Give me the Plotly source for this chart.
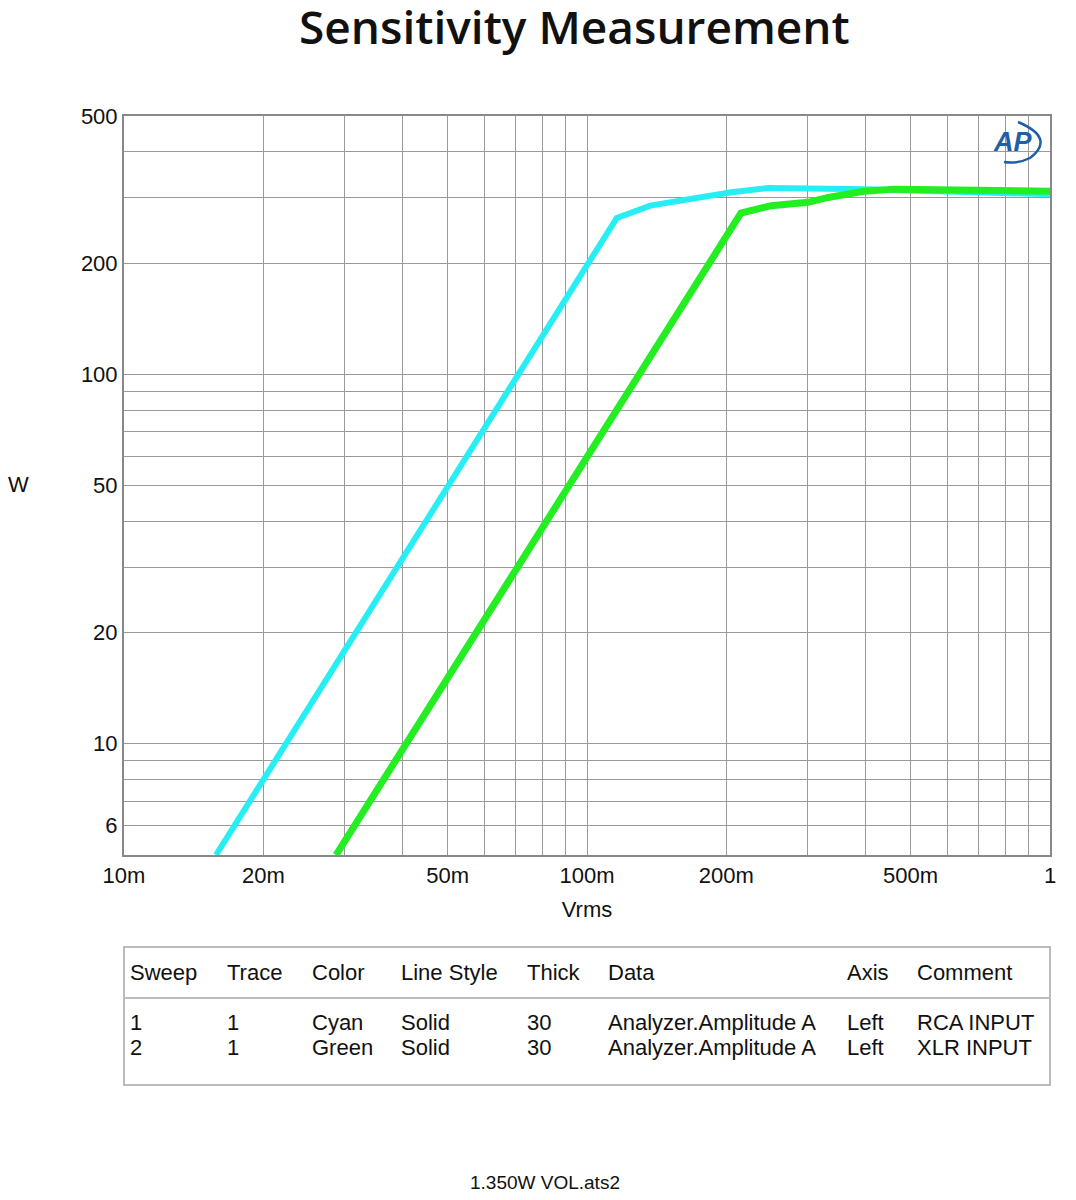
import plotly.graph_objects as go

rca_vrms = [0.0158, 0.116, 0.137, 0.160, 0.205, 0.246, 0.398, 1.0]
rca_watts = [5.0, 265, 286, 295, 311, 319, 317, 307]

xlr_vrms = [0.0287, 0.215, 0.250, 0.300, 0.332, 0.398, 0.462, 1.0]
xlr_watts = [5.0, 273, 286, 292, 301, 313, 317, 313]

# axis ticks / grid
x_grid = [0.01, 0.02, 0.03, 0.04, 0.05, 0.06, 0.07, 0.08, 0.09,
          0.1, 0.2, 0.3, 0.4, 0.5, 0.6, 0.7, 0.8, 0.9, 1.0]
x_labels = {0.01: "10m", 0.02: "20m", 0.05: "50m", 0.1: "100m",
            0.2: "200m", 0.5: "500m", 1.0: "1"}
y_grid = [6, 7, 8, 9, 10, 20, 30, 40, 50, 60, 70, 80, 90, 100,
          200, 300, 400, 500]
y_labels = {6: "6", 10: "10", 20: "20", 50: "50", 100: "100",
            200: "200", 500: "500"}

# legend table under the graph
table_header = ["Sweep", "Trace", "Color", "Line Style", "Thick", "Data", "Axis", "Comment"]
table_rows = [
    ["1", "1", "Cyan", "Solid", "30", "Analyzer.Amplitude A", "Left", "RCA INPUT"],
    ["2", "1", "Green", "Solid", "30", "Analyzer.Amplitude A", "Left", "XLR INPUT"],
]
col_x = [128, 225, 310, 399, 525, 606, 845, 915]  # pixel positions of columns

# page has an 8px body margin, so the figure is drawn a bit smaller
OFF = 8
W, H = 1076 - 2 * OFF, 1200 - 2 * OFF
L, R, T, B = 124, 1050, 116, 855  # plot box in page pixels

fig = go.Figure()
fig.add_trace(go.Scatter(x=rca_vrms, y=rca_watts, mode="lines",
                         line=dict(color="#27EEF5", width=6), name="RCA INPUT"))
fig.add_trace(go.Scatter(x=xlr_vrms, y=xlr_watts, mode="lines",
                         line=dict(color="#22EE22", width=7), name="XLR INPUT"))

axis_font = dict(family="Liberation Sans, Arial, sans-serif", size=22, color="#111")
fig.update_xaxes(type="log", range=[-2, 0], tickvals=x_grid,
                 ticktext=[x_labels.get(v, "") for v in x_grid],
                 showgrid=True, gridcolor="#9a9a9a", gridwidth=1,
                 showline=True, linecolor="#888", linewidth=2, mirror=True,
                 ticks="", tickfont=axis_font, zeroline=False,
                 title=dict(text="Vrms", font=axis_font, standoff=14))
fig.update_yaxes(type="log", range=[0.69897, 2.69897], tickvals=y_grid,
                 ticktext=[y_labels.get(v, "") for v in y_grid],
                 showgrid=True, gridcolor="#9a9a9a", gridwidth=1,
                 showline=True, linecolor="#888", linewidth=2, mirror=True,
                 ticks="", tickfont=axis_font, zeroline=False)


def px_x(p):
    return (p - L) / (R - L)


def px_y(p):
    return (B - p) / (B - T)


blue = "#1f5fa8"
annotations = [
    dict(text="W", x=px_x(18), y=px_y(485), font=axis_font),
    dict(text="1.350W VOL.ats2", x=px_x(545), y=px_y(1182),
         font=dict(family="Liberation Sans, Arial, sans-serif", size=19, color="#111")),
    dict(text="<i><b>AP</b></i>", x=px_x(1012), y=px_y(142),
         font=dict(family="Liberation Sans, Arial, sans-serif", size=27, color=blue)),
    dict(text="Sensitivity Measurement", x=px_x(574), y=px_y(26),
         font=dict(family="Open Sans, sans-serif", size=46, color="#111", weight=600)),
]
for name, cx in zip(table_header, col_x):
    annotations.append(dict(text=name, x=px_x(cx), y=px_y(972), xanchor="left",
                            font=axis_font))
for row, py in zip(table_rows, [1022, 1047]):
    for cell, cx in zip(row, col_x):
        annotations.append(dict(text=cell, x=px_x(cx), y=px_y(py), xanchor="left",
                                font=axis_font))
for a in annotations:
    a.setdefault("xref", "paper")
    a.setdefault("yref", "paper")
    a.setdefault("xanchor", "center")
    a.setdefault("yanchor", "middle")
    a.setdefault("showarrow", False)

shapes = [
    dict(type="rect", xref="paper", yref="paper", x0=px_x(124), x1=px_x(1050),
         y0=px_y(947), y1=px_y(1085), line=dict(color="#bbb", width=2)),
    dict(type="line", xref="paper", yref="paper", x0=px_x(124), x1=px_x(1050),
         y0=px_y(998), y1=px_y(998), line=dict(color="#bbb", width=2)),
    # swoosh of the AP logo
    dict(type="path", xref="paper", yref="paper",
         path=(f"M {px_x(1018)},{px_y(122)} "
               f"Q {px_x(1056)},{px_y(138)} {px_x(1030)},{px_y(158)} "
               f"Q {px_x(1018)},{px_y(164)} {px_x(1004)},{px_y(162)}"),
         line=dict(color=blue, width=2.5)),
]

fig.update_layout(
    width=W, height=H,
    margin=dict(l=L - OFF, r=W - (R - OFF), t=T - OFF, b=H - (B - OFF)),
    paper_bgcolor="white", plot_bgcolor="white",
    showlegend=False,
    annotations=annotations,
    shapes=shapes,
)

fig.write_html("out.html")
